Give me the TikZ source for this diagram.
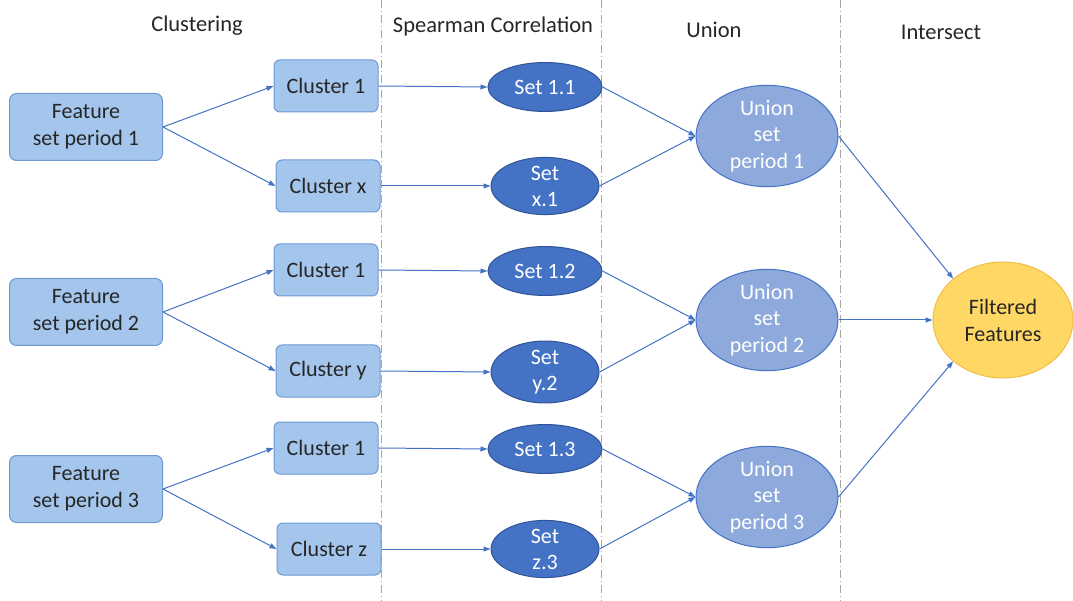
\documentclass[tikz,border=0pt]{standalone}
\usepackage{fontspec}
\setmainfont{Carlito}
\usetikzlibrary{shapes.geometric,arrows.meta}
\definecolor{boxfill}{RGB}{164,198,236}
\definecolor{boxdraw}{RGB}{110,154,211}
\definecolor{setfill}{RGB}{68,114,196}
\definecolor{setdraw}{RGB}{47,85,151}
\definecolor{unifill}{RGB}{142,169,219}
\definecolor{unidraw}{RGB}{68,114,196}
\definecolor{filfill}{RGB}{255,215,100}
\definecolor{fildraw}{RGB}{240,190,70}
\definecolor{arr}{RGB}{68,114,196}
\tikzset{
  featbox/.style={draw=boxdraw, fill=boxfill, rounded corners=7pt, line width=1pt, minimum width=153pt, minimum height=67pt, align=center, font=\fontsize{22}{27}\selectfont, text=black!85},
  clubox/.style={draw=boxdraw, fill=boxfill, rounded corners=6pt, line width=1pt, minimum width=104pt, minimum height=52pt, align=center, font=\fontsize{22}{27}\selectfont, text=black!85},
  setell/.style={ellipse, draw=setdraw, fill=setfill, line width=1pt, inner sep=0pt, align=center, text=white, font=\fontsize{22}{26}\selectfont},
  uniell/.style={ellipse, draw=unidraw, fill=unifill, line width=1pt, inner sep=0pt, minimum width=142pt, minimum height=98pt, align=center, text=white, font=\fontsize{22}{26.5}\selectfont},
  filell/.style={ellipse, draw=fildraw, fill=filfill, line width=1pt, inner sep=0pt, minimum width=140pt, minimum height=116pt, align=center, text=black!85, font=\fontsize{22}{27}\selectfont},
  conn/.style={draw=arr, line width=1pt, -{Triangle[length=7pt,width=5pt]}},
  sep/.style={draw=gray!70, line width=0.8pt, dash pattern=on 8pt off 3pt on 1pt off 3pt},
  title/.style={font=\fontsize{22.5}{27}\selectfont, text=black!85}
}
\begin{document}
\begin{tikzpicture}[x=1pt,y=-1pt]
\useasboundingbox (0,0) rectangle (1073,601);
% separators
\coordinate (s1t) at (381,0); \coordinate (s1b) at (381,601);
\coordinate (s2t) at (601,0); \coordinate (s2b) at (601,601);
\coordinate (s3t) at (840,0); \coordinate (s3b) at (840,601);
\draw[sep] (s1t) -- (s1b);
\draw[sep] (s2t) -- (s2b);
\draw[sep] (s3t) -- (s3b);
% titles
\node[title] (t1) at (197,26) {Clustering};
\node[title] (t2) at (493,27) {Spearman Correlation};
\node[title] (t3) at (714,30) {Union};
\node[title] (t4) at (941,32) {Intersect};
% feature boxes
\node[featbox] (f1) at (86,127) {Feature\\set period 1};
\node[featbox] (f2) at (86,312) {Feature\\set period 2};
\node[featbox] (f3) at (86,489) {Feature\\set period 3};
% clusters
\node[clubox] (c11) at (326,86) {Cluster 1};
\node[clubox] (c1x) at (328,186) {Cluster x};
\node[clubox] (c21) at (326,270) {Cluster 1};
\node[clubox] (c2y) at (328,371) {Cluster y};
\node[clubox] (c31) at (326,448) {Cluster 1};
\node[clubox] (c3z) at (329,549) {Cluster z};
% sets
\node[setell, minimum width=114pt, minimum height=49pt] (s11) at (545,87) {Set 1.1};
\node[setell, minimum width=108pt, minimum height=55pt] (sx1) at (545,186) {Set\\x.1};
\node[setell, minimum width=114pt, minimum height=49pt] (s12) at (545,271) {Set 1.2};
\node[setell, minimum width=108pt, minimum height=55pt] (sy2) at (545,372) {Set\\y.2};
\node[setell, minimum width=114pt, minimum height=49pt] (s13) at (545,449) {Set 1.3};
\node[setell, minimum width=108pt, minimum height=55pt] (sz3) at (545,549) {Set\\z.3};
% unions
\node[uniell] (u1) at (767,136) {Union\\set\\period 1};
\node[uniell] (u2) at (767,320) {Union\\set\\period 2};
\node[uniell] (u3) at (767,497) {Union\\set\\period 3};
% filtered
\node[filell] (ff) at (1003,320) {Filtered\\Features};
% connectors
\draw[conn] (f1.east) -- (c11.west);
\draw[conn] (f1.east) -- (c1x.west);
\draw[conn] (f2.east) -- (c21.west);
\draw[conn] (f2.east) -- (c2y.west);
\draw[conn] (f3.east) -- (c31.west);
\draw[conn] (f3.east) -- (c3z.west);
\draw[conn] (c11.east) -- (s11.west);
\draw[conn] (c1x.east) -- (sx1.west);
\draw[conn] (c21.east) -- (s12.west);
\draw[conn] (c2y.east) -- (sy2.west);
\draw[conn] (c31.east) -- (s13.west);
\draw[conn] (c3z.east) -- (sz3.west);
\draw[conn] (s11.east) -- (u1.west);
\draw[conn] (sx1.east) -- (u1.west);
\draw[conn] (s12.east) -- (u2.west);
\draw[conn] (sy2.east) -- (u2.west);
\draw[conn] (s13.east) -- (u3.west);
\draw[conn] (sz3.east) -- (u3.west);
\draw[conn] (u1.east) -- (ff.north west);
\draw[conn] (u2.east) -- (ff.west);
\draw[conn] (u3.east) -- (ff.south west);
\end{tikzpicture}
\end{document}
